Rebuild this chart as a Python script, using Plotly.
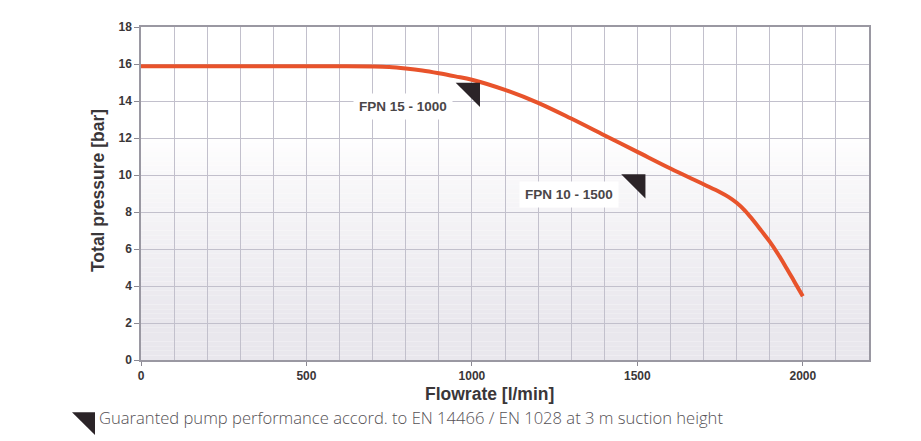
import plotly.graph_objects as go

# Data
flowrate = [0, 100, 200, 300, 400, 500, 600, 700, 750, 800, 850, 900, 950, 1000,
            1100, 1200, 1300, 1400, 1500, 1600, 1700, 1750, 1775, 1800, 1825, 1850, 1875,
            1900, 1925, 1950, 1975, 2000]
pressure = [15.88, 15.88, 15.88, 15.88, 15.88, 15.88, 15.88, 15.87, 15.84, 15.76, 15.65,
            15.5, 15.33, 15.15, 14.6, 13.9, 13.05, 12.15, 11.25, 10.35, 9.5, 9.07, 8.82, 8.5,
            8.08, 7.55, 6.98, 6.4, 5.73, 4.99, 4.22, 3.45]

marker_flow = [1000, 1500]
marker_pressure = [14.55, 9.6]
label_text = ["FPN 15 - 1000", "FPN 10 - 1500"]
label_flow = [792, 1292]
label_pressure = [13.73, 8.92]

x_ticks = [0, 500, 1000, 1500, 2000]
y_ticks = [0, 2, 4, 6, 8, 10, 12, 14, 16, 18]

OFF = 8  # page body margin
W, H = 921 - OFF, 441 - OFF
# plot area in screen pixels
PL, PR, PT, PB = 141, 869, 23, 360
L, R, T, B = PL - OFF, (W + OFF) - PR, PT - OFF, (H + OFF) - PB

fig = go.Figure()

# background gradient bands
shapes = []
n = 72
top_c = (255, 255, 255)
bot_c = (233, 231, 237)
for i in range(n):
    y0 = 18 * i / n
    y1 = 18 * (i + 1) / n
    ym = (y0 + y1) / 2
    if ym >= 12:
        t = 0.0
    elif ym <= 2:
        t = 1.0
    else:
        t = ((12 - ym) / 10) ** 0.8
    c = tuple(round(top_c[k] + (bot_c[k] - top_c[k]) * t) for k in range(3))
    shapes.append(dict(type="rect", xref="x", yref="y", x0=0, x1=2200, y0=y0, y1=y1,
                       fillcolor="rgb(%d,%d,%d)" % c, line=dict(width=0), layer="below"))

# screen pixel -> paper coordinates
def px(xp):
    return (xp - PL) / (PR - PL)

def py(yp):
    return (PB - yp) / (PB - PT)

shapes.append(dict(type="path", xref="paper", yref="paper",
                   path="M %f %f L %f %f L %f %f Z" % (px(72), py(413), px(95), py(413), px(95), py(436)),
                   fillcolor="#2b2428", line=dict(width=0)))

fig.add_trace(go.Scatter(
    x=flowrate, y=pressure, mode="lines",
    line=dict(color="#e8532b", width=4, shape="spline", smoothing=1.0),
    hoverinfo="skip", showlegend=False))

fig.add_trace(go.Scatter(
    x=marker_flow, y=marker_pressure, mode="markers",
    marker=dict(symbol="triangle-ne", size=27, color="#2b2428", line=dict(width=0)),
    showlegend=False, hoverinfo="skip"))

annotations = []
for t, xf, yp in zip(label_text, label_flow, label_pressure):
    annotations.append(dict(x=xf, y=yp, xref="x", yref="y", text="<b>%s</b>" % t, showarrow=False,
                            font=dict(family="Liberation Sans, Arial, sans-serif", size=13.5, color="#4a4648"),
                            bgcolor="white", borderpad=5))

annotations.append(dict(x=px(489), y=py(394), xref="paper", yref="paper",
                        text="<b>Flowrate [l/min]</b>", showarrow=False,
                        font=dict(family="Liberation Sans, Arial, sans-serif", size=17.5, color="#3a3638"),
                        xanchor="center", yanchor="middle"))
annotations.append(dict(x=px(98), y=py(189), xref="paper", yref="paper",
                        text="<b>Total pressure [bar]</b>", showarrow=False, textangle=-90,
                        font=dict(family="Liberation Sans, Arial, sans-serif", size=17.5, color="#3a3638"),
                        xanchor="center", yanchor="middle"))
annotations.append(dict(x=px(97), y=py(418), xref="paper", yref="paper",
                        text="Guaranted pump performance accord. to EN 14466 / EN 1028 at 3 m suction height",
                        showarrow=False,
                        font=dict(family="Open Sans, Lato, sans-serif", size=16.6, color="#555155", weight=300),
                        xanchor="left", yanchor="middle"))

grid_c = "#c2c0cc"
fig.update_layout(
    width=W, height=H,
    margin=dict(l=L, r=R, t=T, b=B),
    paper_bgcolor="white",
    plot_bgcolor="white",
    shapes=shapes,
    annotations=annotations,
    xaxis=dict(range=[0, 2200], tickvals=x_ticks, ticktext=["<b>%d</b>" % v for v in x_ticks],
               showgrid=True, gridcolor=grid_c, gridwidth=1,
               minor=dict(dtick=100, tick0=0, showgrid=True, gridcolor=grid_c, gridwidth=1),
               ticks="outside", ticklen=4, tickcolor="#8a8892",
               showline=True, linecolor="#9a98a2", linewidth=1.5, mirror=True,
               zeroline=False, fixedrange=True,
               tickfont=dict(family="Liberation Sans, Arial, sans-serif", size=12, color="#3a3638")),
    yaxis=dict(range=[0, 18], tickvals=y_ticks, ticktext=["<b>%d</b>" % v for v in y_ticks],
               showgrid=True, gridcolor=grid_c, gridwidth=1,
               ticks="outside", ticklen=5, tickcolor="#8a8892",
               showline=True, linecolor="#9a98a2", linewidth=1.5, mirror=True,
               zeroline=False, fixedrange=True,
               tickfont=dict(family="Liberation Sans, Arial, sans-serif", size=12, color="#3a3638")),
)

fig.write_html("out.html")
